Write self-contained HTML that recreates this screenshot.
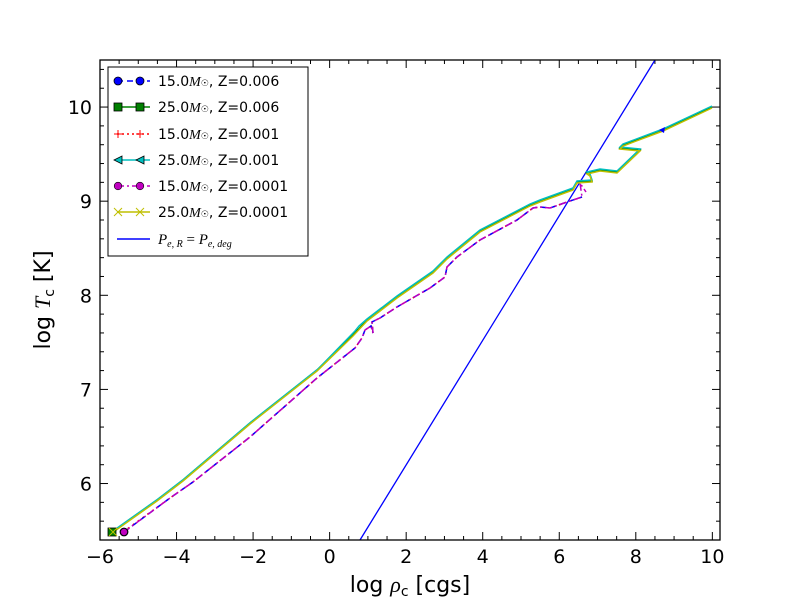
<!DOCTYPE html>
<html><head><meta charset="utf-8"><style>
body{margin:0;background:#fff;}
svg{display:block;font-family:"DejaVu Sans","Liberation Sans",sans-serif;}
</style></head><body>
<svg id="s" width="800" height="600" viewBox="0 0 800 600" xmlns="http://www.w3.org/2000/svg">
<rect width="800" height="600" fill="#fff"/>
<g id="ticks" stroke="#000" stroke-width="1"></g>
<g id="labels" font-size="19" fill="#000"></g>
<line x1="360" y1="540" x2="655" y2="60" stroke="#0000ff" stroke-width="1.3"/>
<g fill="none" stroke-width="1.5">
<polyline stroke="#ff0000" stroke-dasharray="2,4" points="123,532 170,498 193,482 250,437 317,378 355,348 362,338 365,330 371,326 373,333 372,322 380,318 397,307 430,288 445,277 447,267 457,257 480,240 517,220 533,208 540,207 550,208 567,202 582,197"/>
<polyline stroke="#0000ff" stroke-dasharray="6,4" points="124,532 170,498 193,482 250,437 317,378 355,348 362,338 365,330 371,326 373,333 372,322 380,318 397,307 430,288 445,277 447,267 457,257 480,240 517,220 533,208 540,207 550,208 567,202 582,197"/>
<polyline stroke="#bf00bf" stroke-dasharray="7,3,2,3" points="124,532 170,498 193,482 250,437 317,378 355,348 362,338 365,330 371,326 373,333 372,322 380,318 397,307 430,288 445,277 447,267 457,257 480,240 517,220 533,208 540,207 550,208 567,202 582,197 580,183 586,192"/>
</g>
<g fill="none" stroke-width="1.5">
<polyline stroke="#008000" points="112,532 157,500 183,480 250,423 317,370 353,335 357,329 355,333 367,320 397,297 433,272 447,258 480,231 530,205 540,201 573,189 577,182 592,181 590,175 587,173 600,170 617,172 640,150 620,148 623,145 663,130 712,107"/>
<polyline stroke="#00bfbf" points="113,531 158,499 184,479 251,422 318,369 355,331 359,326 367,319 397,296 433,271 447,257 480,230 530,204 540,200 573,188 577,181 592,180 590,174 587,172 600,169 617,171 640,149 620,147 623,144 663,129 712,106"/>
<polyline stroke="#bfbf00" points="112,533 157,501 183,481 250,424 317,371 353,336 367,321 397,298 433,273 447,259 480,232 530,206 540,202 573,190 577,183 592,182 590,176 587,174 600,171 617,173 640,151 620,149 623,146 663,131 712,108"/>
</g>
<rect x="108" y="528" width="8" height="8" fill="#008000" stroke="#000" stroke-width="0.8"/>
<path d="M109,528 L117,536 M117,528 L109,536" stroke="#bfbf00" stroke-width="1"/>
<circle cx="124" cy="532" r="4" fill="#0000ff" stroke="#000" stroke-width="0.8"/>
<circle cx="124" cy="532" r="3.5" fill="#bf00bf" stroke="#000" stroke-width="0.6"/>
<path d="M659,130 L665,127 L664,133 Z" fill="#0000ff"/>
<rect x="100" y="60" width="620" height="480" fill="none" stroke="#000" stroke-width="1.3"/>
<rect x="108" y="67" width="200" height="189" fill="#fff" stroke="#000" stroke-width="1"/>
<g font-size="14">
<line x1="117" y1="81" x2="150" y2="81" stroke="#0000ff" stroke-dasharray="6,4" stroke-width="1.5"/>
<circle cx="118" cy="81" r="4" fill="#0000ff" stroke="#000" stroke-width="0.8"/><circle cx="140" cy="81" r="4" fill="#0000ff" stroke="#000" stroke-width="0.8"/>
<line x1="117" y1="107" x2="150" y2="107" stroke="#008000" stroke-width="1.5"/>
<rect x="114" y="103" width="8" height="8" fill="#008000" stroke="#000" stroke-width="0.8"/><rect x="136" y="103" width="8" height="8" fill="#008000" stroke="#000" stroke-width="0.8"/>
<line x1="117" y1="134" x2="150" y2="134" stroke="#ff0000" stroke-dasharray="2,3" stroke-width="1.5"/>
<path d="M114,134 h8 M118,130 v8 M136,134 h8 M140,130 v8" stroke="#ff0000"/>
<line x1="117" y1="160" x2="150" y2="160" stroke="#00bfbf" stroke-width="1.5"/>
<path d="M114,160 L122,156 L122,164Z M136,160 L144,156 L144,164Z" fill="#00bfbf" stroke="#000" stroke-width="0.8"/>
<line x1="117" y1="186" x2="150" y2="186" stroke="#bf00bf" stroke-dasharray="7,3,2,3" stroke-width="1.5"/>
<circle cx="118" cy="186" r="3.8" fill="#bf00bf" stroke="#000" stroke-width="0.6"/><circle cx="140" cy="186" r="3.8" fill="#bf00bf" stroke="#000" stroke-width="0.6"/>
<line x1="117" y1="212" x2="150" y2="212" stroke="#bfbf00" stroke-width="1.5"/>
<path d="M114,208 l8,8 M122,208 l-8,8 M136,208 l8,8 M144,208 l-8,8" stroke="#bfbf00"/>
<line x1="117" y1="239" x2="150" y2="239" stroke="#0000ff" stroke-width="1.5"/>
<text x="158" y="86">15.0<tspan font-family="Liberation Serif" font-style="italic">M</tspan><tspan font-size="9">☉</tspan>, Z=0.006</text>
<text x="158" y="112">25.0<tspan font-family="Liberation Serif" font-style="italic">M</tspan><tspan font-size="9">☉</tspan>, Z=0.006</text>
<text x="158" y="139">15.0<tspan font-family="Liberation Serif" font-style="italic">M</tspan><tspan font-size="9">☉</tspan>, Z=0.001</text>
<text x="158" y="165">25.0<tspan font-family="Liberation Serif" font-style="italic">M</tspan><tspan font-size="9">☉</tspan>, Z=0.001</text>
<text x="158" y="191">15.0<tspan font-family="Liberation Serif" font-style="italic">M</tspan><tspan font-size="9">☉</tspan>, Z=0.0001</text>
<text x="158" y="217">25.0<tspan font-family="Liberation Serif" font-style="italic">M</tspan><tspan font-size="9">☉</tspan>, Z=0.0001</text>
<text x="158" y="244" font-family="Liberation Serif" font-style="italic" font-size="15">P<tspan font-size="10" dy="3">e, R</tspan><tspan dy="-3" font-style="normal"> = </tspan>P<tspan font-size="10" dy="3">e, deg</tspan></text>
</g>
<text x="410" y="592" font-size="22" text-anchor="middle">log <tspan font-family="Liberation Serif" font-style="italic">ρ</tspan><tspan font-size="14" dy="4">c</tspan><tspan dy="-4"> [cgs]</tspan></text>
<text transform="translate(50,300) rotate(-90)" font-size="22" text-anchor="middle">log <tspan font-family="Liberation Serif" font-style="italic">T</tspan><tspan font-size="14" dy="4">c</tspan><tspan dy="-4"> [K]</tspan></text>
</svg>
<script>
var ns="http://www.w3.org/2000/svg",T=document.getElementById("ticks"),L=document.getElementById("labels");
function X(v){return 100+(v+6)*620/16.2;}function Y(v){return 540-(v-5.4)*480/5.1;}
function ln(a,b,c,d){var e=document.createElementNS(ns,"line");e.setAttribute("x1",a);e.setAttribute("y1",b);e.setAttribute("x2",c);e.setAttribute("y2",d);T.appendChild(e);}
function tx(x,y,s,a){var e=document.createElementNS(ns,"text");e.setAttribute("x",x);e.setAttribute("y",y);e.setAttribute("text-anchor",a);e.textContent=s;L.appendChild(e);}
for(var v=-6;v<=10.2;v+=0.5){var x=X(v),maj=Math.abs(v%2)<1e-6;var l=maj?8:4;ln(x,540,x,540-l);ln(x,60,x,60+l);if(maj)tx(x,563,(v<0?"\u2212":"")+Math.abs(v),"middle");}
for(var i=0;i<=25;i++){var v=5.4+i*0.2;if(v>10.51)break;var y=Y(v),maj=Math.abs(v-Math.round(v))<1e-6;var l=maj?8:4;ln(100,y,100+l,y);ln(720,y,720-l,y);if(maj)tx(92,y+7,Math.round(v),"end");}
</script>
</body></html>
